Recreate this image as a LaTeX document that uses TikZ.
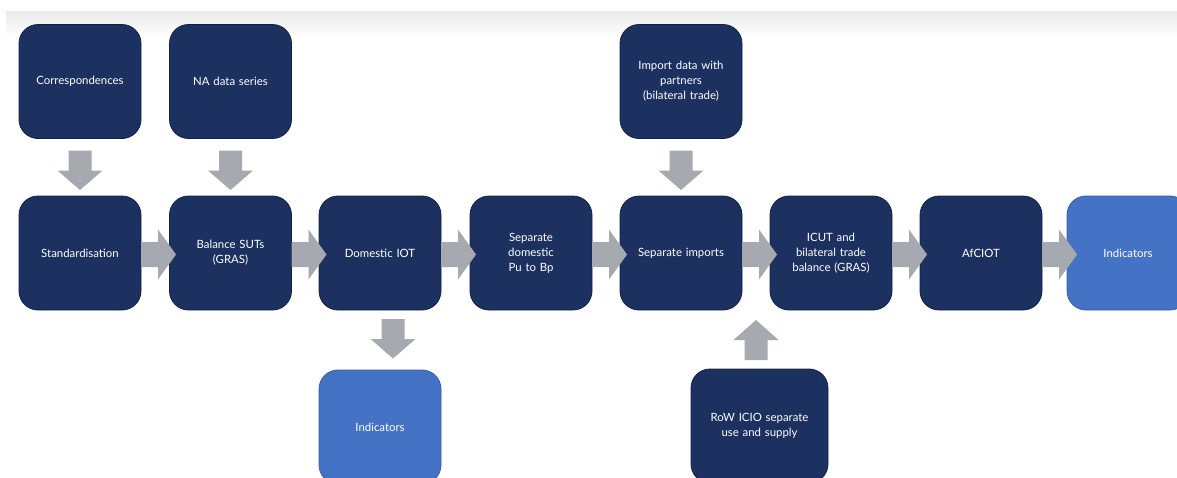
\documentclass[tikz,border=0pt]{standalone}
\usepackage{fontspec}
\setmainfont{Lato}
\usetikzlibrary{calc}
\definecolor{navy}{RGB}{28,49,96}
\definecolor{navyline}{RGB}{18,34,68}
\definecolor{lblue}{RGB}{68,114,196}
\definecolor{lblueline}{RGB}{55,95,168}
\definecolor{flowgray}{RGB}{167,169,176}
\tikzset{
  box/.style={rectangle, rounded corners=19pt, minimum width=122pt, minimum height=114pt,
    inner sep=2pt, outer sep=0pt, align=center, text=white, fill=navy, draw=navyline,
    line width=0.8pt, font=\fontsize{11.4}{15}\selectfont, text width=116pt},
  outbox/.style={box, fill=lblue, draw=lblueline},
  flow/.style={fill=flowgray, draw=none}
}
% right block arrow from east side of #1 (tip reaches into #2)
\newcommand\rflow[2]{%
  \fill[flow] ($(#1.east)+(0,-11)$) -- ++(17,0) -- ++(0,-12.5) -- ++(18,25) -- ++(-18,25)
    -- ++(0,-12.5) -- ++(-17,0) -- cycle;}
% down block arrow below #1 toward #2, x offset #3, gap #4
\newcommand\dflow[4]{%
  \fill[flow] ($(#1.south)+(#3-11.5,#4)$) -- ++(23,0) -- ++(0,20) -- ++(11,0)
    -- ++(-22.5,19.5) -- ++(-22.5,-19.5) -- ++(11,0) -- cycle;}
% up block arrow above #1 toward #2
\newcommand\uflow[4]{%
  \fill[flow] ($(#1.north)+(#3-11.5,-#4)$) -- ++(23,0) -- ++(0,-20) -- ++(11,0)
    -- ++(-22.5,-20) -- ++(-22.5,20) -- ++(11,0) -- cycle;}
\begin{document}
\begin{tikzpicture}[x=1pt,y=-1pt]
\useasboundingbox (0,0) rectangle (1177,477);
\clip (0,0) rectangle (1177,477);
\fill[white] (0,0) rectangle (1177,477);
\shade[top color=black!8, bottom color=white] (6,11) rectangle (1177,38);

% top row
\node[box] (corr) at (80,81.5) {Correspondences};
\node[box] (na) at (230.5,81.5) {NA data series};
\node[box] (imp) at (681,81.5) {Import data with\\partners\\(bilateral trade)};

% main row
\node[box] (std) at (80,253) {Standardisation};
\node[box] (bal) at (230.5,253) {Balance SUTs\\(GRAS)};
\node[box] (dom) at (380,253) {Domestic IOT};
\node[box] (sepd) at (531,253) {Separate\\domestic\\Pu to Bp};
\node[box] (sepi) at (681,253) {Separate imports};
\node[box] (icut) at (831,253) {ICUT and\\bilateral trade\\balance (GRAS)};
\node[box] (af) at (981,253) {AfCIOT};
\node[outbox] (ind) at (1128,253) {Indicators};

% bottom row
\node[outbox] (ind2) at (380,427) {Indicators};
\node[box, minimum width=137pt, text width=131pt] (row) at (759.5,426) {RoW ICIO separate\\use and supply};

% flows
\dflow{corr}{std}{0}{12}
\dflow{na}{bal}{0}{12}
\dflow{imp}{sepi}{0}{12}
\rflow{std}{bal}
\rflow{bal}{dom}
\rflow{dom}{sepd}
\rflow{sepd}{sepi}
\rflow{sepi}{icut}
\rflow{icut}{af}
\rflow{af}{ind}
\dflow{dom}{ind2}{13}{9}
\uflow{row}{sepi}{-3.5}{9}
\end{tikzpicture}
\end{document}
